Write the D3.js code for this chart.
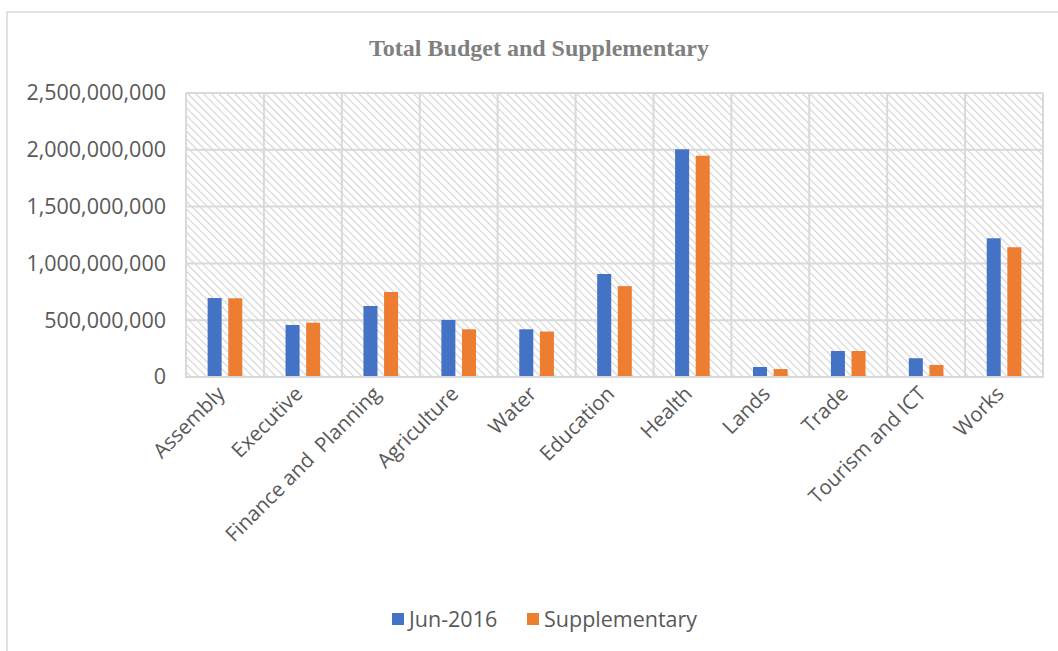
<!DOCTYPE html>
<html>
<head>
<meta charset="utf-8">
<script src="https://cdn.jsdelivr.net/npm/d3@7"></script>
<style>
  html, body { margin: 0; padding: 0; background: #fff; }
  svg { display: block; }
</style>
</head>
<body>
<svg id="chart" width="1058" height="651"></svg>
<script>
// Departments and their budget figures (KES)
const categories = ["Assembly", "Executive", "Finance and  Planning", "Agriculture", "Water",
  "Education", "Health", "Lands", "Trade", "Tourism and ICT", "Works"];
const seriesNames = ["Jun-2016", "Supplementary"];
const jun2016 = [695000000, 458000000, 625000000, 502000000, 420000000,
  907000000, 2004000000, 88000000, 229000000, 165000000, 1221000000];
const supplementary = [693000000, 478000000, 748000000, 420000000, 400000000,
  800000000, 1948000000, 70000000, 229000000, 106000000, 1142000000];
const yTicks = [0, 500000000, 1000000000, 1500000000, 2000000000, 2500000000];
const colors = ["#4472C4", "#ED7D31"];

const svg = d3.select("#chart");
const margin = { left: 186, right: 1043, top: 93, bottom: 377 };
const labelFont = "'Open Sans', sans-serif";

// outer chart frame
svg.append("rect").attr("x", 7).attr("y", 12).attr("width", 1100).attr("height", 700)
  .attr("fill", "#fff").attr("stroke", "#d9d9d9").attr("stroke-width", 1.5);

// diagonal hatch fill for the plot area
const defs = svg.append("defs");
const pat = defs.append("pattern").attr("id", "hatch").attr("patternUnits", "userSpaceOnUse")
  .attr("width", 5.5).attr("height", 5.5).attr("patternTransform", "rotate(-45)");
pat.append("rect").attr("width", 5.5).attr("height", 5.5).attr("fill", "#fff");
pat.append("line").attr("x1", 0).attr("y1", 0).attr("x2", 0).attr("y2", 5.5)
  .attr("stroke", "#d2d2d2").attr("stroke-width", 2.2);

const x0 = d3.scaleBand().domain(categories).range([margin.left, margin.right]).padding(0);
const x1 = d3.scaleBand().domain(seriesNames).range([0, x0.bandwidth()]).paddingInner(0.32).paddingOuter(1.05);
const y = d3.scaleLinear().domain([0, 2500000000]).range([margin.bottom, margin.top]);

svg.append("rect").attr("x", margin.left).attr("y", margin.top)
  .attr("width", margin.right - margin.left).attr("height", margin.bottom - margin.top)
  .attr("fill", "url(#hatch)");

// horizontal gridlines
svg.append("g").selectAll("line").data(yTicks).join("line")
  .attr("x1", margin.left).attr("x2", margin.right)
  .attr("y1", d => y(d)).attr("y2", d => y(d))
  .attr("stroke", "#d9d9d9").attr("stroke-width", 2);

// vertical gridlines at category boundaries
const bounds = categories.map(c => x0(c)).concat([margin.right]);
svg.append("g").selectAll("line").data(bounds).join("line")
  .attr("x1", d => d).attr("x2", d => d)
  .attr("y1", margin.top).attr("y2", margin.bottom)
  .attr("stroke", "#d9d9d9").attr("stroke-width", 2);

// title
svg.append("text").attr("x", 539).attr("y", 56).attr("text-anchor", "middle")
  .attr("font-family", "'Liberation Serif', serif").attr("font-weight", "bold")
  .attr("font-size", 24).attr("fill", "#7f7f7f")
  .text("Total Budget and Supplementary");

// bars
const rows = categories.map((c, i) => ({ c, vals: [jun2016[i], supplementary[i]] }));
const groups = svg.append("g").selectAll("g").data(rows).join("g")
  .attr("transform", d => `translate(${x0(d.c)},0)`);
groups.selectAll("rect").data(d => d.vals.map((v, k) => ({ v, k }))).join("rect")
  .attr("x", d => x1(seriesNames[d.k]))
  .attr("width", x1.bandwidth())
  .attr("y", d => y(d.v))
  .attr("height", d => y(0) - y(d.v))
  .attr("fill", d => colors[d.k]);

// y axis
const yAxis = d3.axisLeft(y).tickValues(yTicks).tickFormat(d3.format(",")).tickSize(0).tickPadding(20);
const yg = svg.append("g").attr("transform", `translate(${margin.left},0)`).call(yAxis);
yg.select(".domain").remove();
yg.selectAll("text").attr("font-family", labelFont).attr("font-size", 21.5).attr("fill", "#595959");

// x axis with rotated labels
const xAxis = d3.axisBottom(x0).tickSize(0).tickPadding(0);
const xg = svg.append("g").attr("transform", `translate(0,${margin.bottom})`).call(xAxis);
xg.select(".domain").remove();
xg.selectAll("text")
  .attr("font-family", labelFont).attr("font-size", 20.5).attr("fill", "#595959")
  .attr("text-anchor", "end").attr("dy", "0.35em")
  .attr("transform", "translate(-4,13) rotate(-45)")
  .attr("y", 0).attr("x", 0);
xg.selectAll(".tick text").style("white-space", "pre");

// bottom rule of the plot
svg.append("line").attr("x1", margin.left - 1).attr("x2", margin.right + 1)
  .attr("y1", margin.bottom).attr("y2", margin.bottom)
  .attr("stroke", "#d9d9d9").attr("stroke-width", 2);

// legend
const legend = svg.append("g").attr("transform", "translate(392,619)");
const legendX = [0, 135];
seriesNames.forEach((name, k) => {
  const g = legend.append("g").attr("transform", `translate(${legendX[k]},0)`);
  g.append("rect").attr("x", 0).attr("y", -6).attr("width", 12).attr("height", 12).attr("fill", colors[k]);
  g.append("text").attr("x", 17).attr("y", 0).attr("dy", "0.35em")
    .attr("font-family", labelFont).attr("font-size", 21.5).attr("fill", "#595959").text(name);
});
</script>
</body>
</html>
